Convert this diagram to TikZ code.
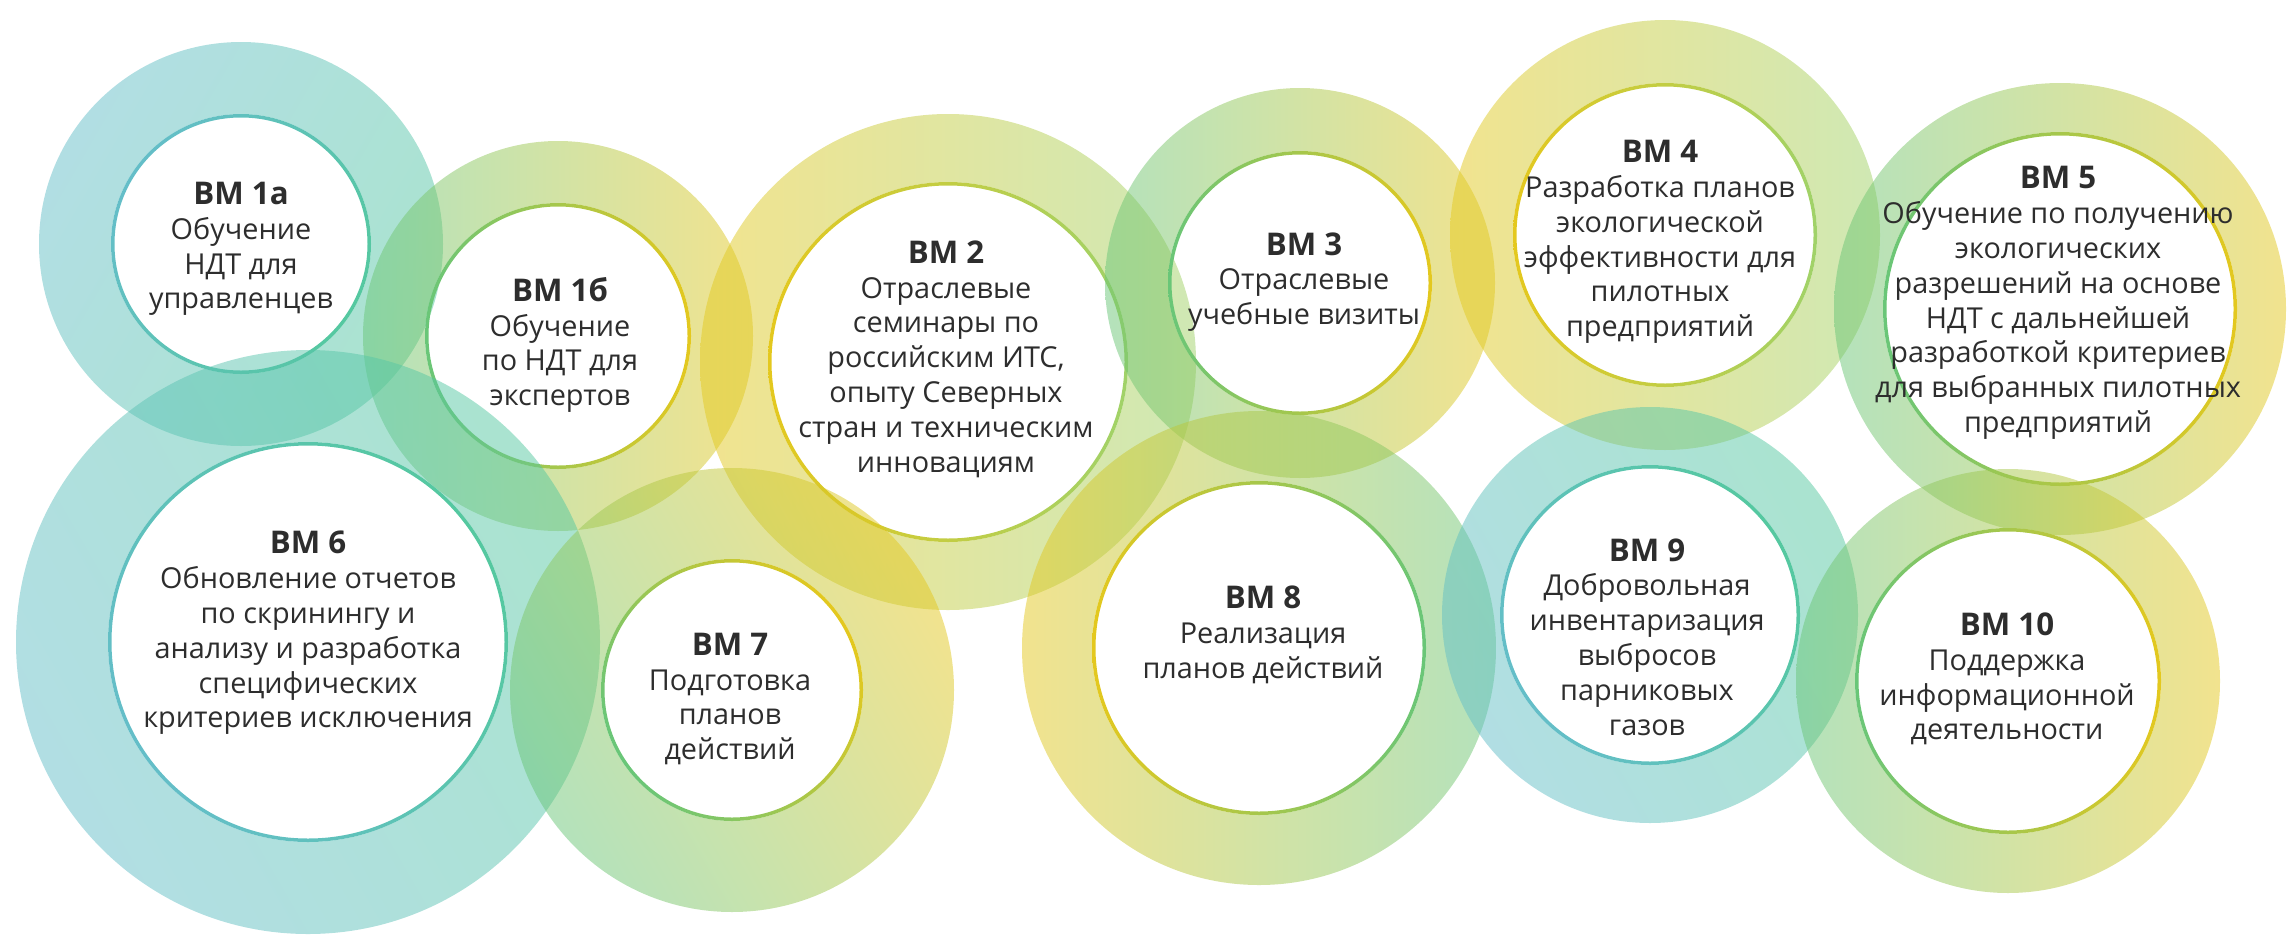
\documentclass[tikz,border=0pt]{standalone}
\usepackage{fontspec}
\setmainfont{Open Sans}
\usepackage{tikz}
\usetikzlibrary{calc}
\definecolor{bmteal}{RGB}{85,200,160}
\definecolor{bmblue}{RGB}{100,190,200}
\definecolor{bmgreen}{RGB}{105,198,120}
\definecolor{bmlime}{RGB}{160,210,105}
\definecolor{bmyellow}{RGB}{228,200,30}
\definecolor{bmgray}{RGB}{45,45,45}
\def\bmring(#1)(#2:#3)[#4:#5:#6]{%
  \shade[left color=#4, right color=#5, shading angle=#6, fill opacity=0.5, even odd rule] (#1) circle[radius=#2] (#1) circle[radius=#3];
  \shade[left color=#4, right color=#5, shading angle=#6, even odd rule] (#1) circle[radius=#3] (#1) circle[radius=#3-0.035];}
\newcommand\bmtitle[1]{{\fontsize{8.9pt}{9.9pt}\selectfont\bfseries #1}}

\begin{document}
\begin{tikzpicture}[bmtext/.style={align=center, text=bmgray, inner sep=0pt, font=\fontsize{8.2pt}{9.9pt}\selectfont}]
		%%%%% START %%%%%
		\useasboundingbox (0, 0) rectangle (22.95, 9.37);
		
		\bmring(2.41, 6.93)(2.02:1.30)[bmblue:bmteal:60]
		\bmring(5.58, 6.01)(1.95:1.33)[bmgreen:bmyellow:90]
		\bmring(9.48, 5.75)(2.48:1.80)[bmyellow:bmlime:90]
		\bmring(13.00, 6.54)(1.95:1.32)[bmgreen:bmyellow:90]
		\bmring(16.65, 7.02)(2.15:1.52)[bmyellow:bmlime:90]
		\bmring(20.60, 6.28)(2.26:1.77)[bmgreen:bmyellow:90]
		
		\bmring(3.08, 2.95)(2.92:2.00)[bmblue:bmteal:120]
		\bmring(7.32, 2.47)(2.22:1.31)[bmgreen:bmyellow:120]
		\bmring(12.59, 2.89)(2.37:1.67)[bmyellow:bmgreen:90]
		\bmring(16.50, 3.22)(2.08:1.50)[bmblue:bmteal:120]
		\bmring(20.08, 2.56)(2.12:1.53)[bmgreen:bmyellow:90]
		
		\node[bmtext] (bm1a) at (2.41, 6.88) {\bmtitle{ВМ 1а}\\Обучение\\НДТ для\\управленцев};
		\node[bmtext] (bm1b) at (5.60, 5.92) {\bmtitle{ВМ 1б}\\Обучение\\по НДТ для\\экспертов};
		\node[bmtext] (bm2) at (9.46, 5.78) {\bmtitle{ВМ 2}\\Отраслевые\\семинары по\\российским ИТС,\\опыту Северных\\стран и техническим\\инновациям};
		\node[bmtext] (bm3) at (13.04, 6.55) {\bmtitle{ВМ 3}\\Отраслевые\\учебные визиты};
		\node[bmtext] (bm4) at (16.60, 6.95) {\bmtitle{ВМ 4}\\Разработка планов\\экологической\\эффективности для\\пилотных\\предприятий};
		\node[bmtext] (bm5) at (20.58, 6.34) {\bmtitle{ВМ 5}\\Обучение по получению\\экологических\\разрешений на основе\\НДТ с дальнейшей\\разработкой критериев\\для выбранных пилотных\\предприятий};
		
		\node[bmtext] (bm6) at (3.08, 3.04) {\bmtitle{ВМ 6}\\Обновление отчетов\\по скринингу и\\анализу и разработка\\специфических\\критериев исключения};
		\node[bmtext] (bm7) at (7.30, 2.38) {\bmtitle{ВМ 7}\\Подготовка\\планов\\действий};
		\node[bmtext] (bm8) at (12.63, 3.02) {\bmtitle{ВМ 8}\\Реализация\\планов действий};
		\node[bmtext] (bm9) at (16.47, 3.00) {\bmtitle{ВМ 9}\\Добровольная\\инвентаризация\\выбросов\\парниковых\\газов};
		\node[bmtext] (bm10) at (20.07, 2.58) {\bmtitle{ВМ 10}\\Поддержка\\информационной\\деятельности};
		%%%%% END %%%%%
\end{tikzpicture}
\end{document}
